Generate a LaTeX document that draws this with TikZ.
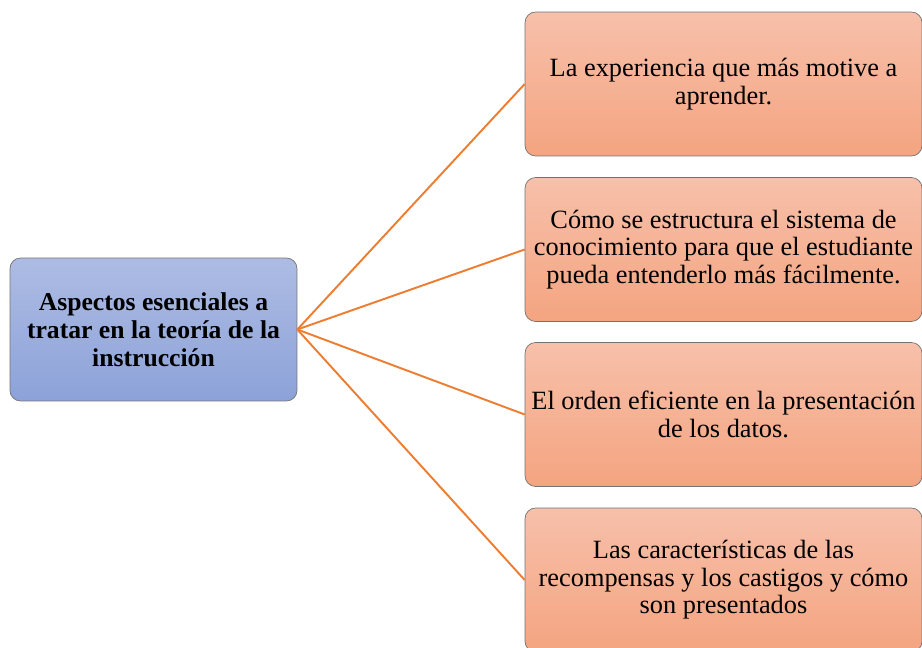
\documentclass[tikz,border=0pt]{standalone}
\usepackage{fontspec}
\setmainfont{Liberation Serif}
\definecolor{azularr}{RGB}{174,188,228}
\definecolor{azulab}{RGB}{140,162,216}
\definecolor{salmonarr}{RGB}{247,192,170}
\definecolor{salmonab}{RGB}{244,164,128}
\definecolor{naranja}{RGB}{237,125,49}
\tikzset{
  tema/.style={draw=black!55, rounded corners=6pt, top color=azularr, bottom color=azulab,
    minimum width=5.74cm, minimum height=2.86cm, align=center, font=\fontsize{14.6}{15.8}\selectfont\bfseries},
  idea/.style={draw=black!55, rounded corners=6pt, top color=salmonarr, bottom color=salmonab,
    minimum width=7.94cm, minimum height=2.88cm, align=center, font=\fontsize{15}{15.6}\selectfont},
  rama/.style={draw=naranja, line width=1.1pt}
}
\begin{document}
\begin{tikzpicture}[x=0.02cm, y=-0.02cm]
  \useasboundingbox (0,0) rectangle (922,648);
  %
  \node[tema] (t) at (153.5,329.5) {Aspectos esenciales a\\ tratar en la teoría de la\\ instrucción}; % left box
  %
  \node[idea] (a) at (723.5,84) {La experiencia que más motive a\\ aprender.};          % first
  \node[idea] (b) at (723.5,249.5) {Cómo se estructura el sistema de\\ conocimiento para que el estudiante\\ pueda entenderlo más fácilmente.};
  \node[idea] (c) at (723.5,414.5) {El orden eficiente en la presentación\\ de los datos.};
  \node[idea] (d) at (723.5,580) {Las características de las\\ recompensas y los castigos y cómo\\ son presentados};
  %
  \draw[rama] (t.east) -- (a.west); % lines
  \draw[rama] (t.east) -- (b.west);
  \draw[rama] (t.east) -- (c.west);
  \draw[rama] (t.east) -- (d.west);
\end{tikzpicture}
\end{document}
